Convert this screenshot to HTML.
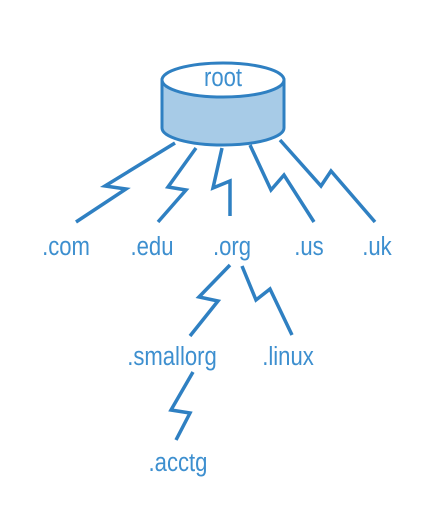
<!DOCTYPE html>
<html><head><style>
html,body{margin:0;padding:0;background:#fff;width:446px;height:523px;overflow:hidden}
text{font-family:"Liberation Sans",sans-serif;fill:#3d8fcf;font-size:26px}
</style></head><body>
<svg width="446" height="523" viewBox="0 0 446 523">
<g stroke="#2f80c2" stroke-width="3.5" fill="none" stroke-linejoin="miter">
<path d="M162,80 L162,128 A61,17 0 0 0 284,128 L284,80 Z" fill="#a7cbe7" stroke-width="3"/>
<ellipse cx="223" cy="80" rx="61" ry="17" fill="#fff" stroke-width="3"/>
<polyline points="175,143 105,186 126,189 76,222"/>
<polyline points="196,148 168,187 186,190 158,222"/>
<polyline points="222,148 213,188 230,181 230,216"/>
<polyline points="250,145 271,190 284,175 314,222"/>
<polyline points="280,140 321,186 331,171 375,222"/>
<polyline points="230,265 199,297 218,301 190,336"/>
<polyline points="242,266 256,300 270,289 292,335"/>
<polyline points="193,372 171,410 190,413 176,440"/>
</g>
<g text-anchor="middle">
<text x="223" y="86" transform="translate(223 0) scale(0.85 1) translate(-223 0)">root</text>
<text x="66" y="255" transform="translate(66 0) scale(0.85 1) translate(-66 0)">.com</text>
<text x="152" y="255" transform="translate(152 0) scale(0.85 1) translate(-152 0)">.edu</text>
<text x="232" y="255" transform="translate(232 0) scale(0.85 1) translate(-232 0)">.org</text>
<text x="309" y="255" transform="translate(309 0) scale(0.85 1) translate(-309 0)">.us</text>
<text x="377" y="255" transform="translate(377 0) scale(0.85 1) translate(-377 0)">.uk</text>
<text x="172" y="365" transform="translate(172 0) scale(0.85 1) translate(-172 0)">.smallorg</text>
<text x="288" y="365" transform="translate(288 0) scale(0.85 1) translate(-288 0)">.linux</text>
<text x="178" y="471" transform="translate(178 0) scale(0.85 1) translate(-178 0)">.acctg</text>
</g>
</svg>
</body></html>
